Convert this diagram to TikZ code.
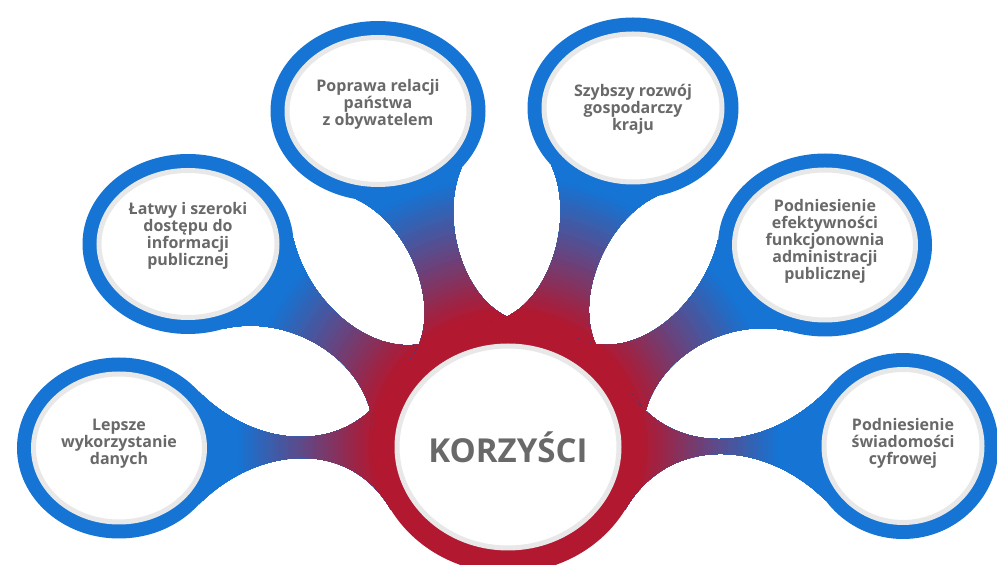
\documentclass[tikz,border=0pt]{standalone}
\usepackage{fontspec}
\setmainfont{Open Sans}
\usetikzlibrary{shapes.geometric}

\definecolor{korblue}{RGB}{21,116,212}
\definecolor{korred}{RGB}{178,24,48}
\definecolor{facegray}{RGB}{232,232,232}
\definecolor{textgray}{RGB}{105,105,105}

\pgfdeclarelayer{necks}
\pgfsetlayers{necks,main}

\tikzset{
  ring/.style={ellipse, fill=korblue, inner sep=0pt, outer sep=0pt},
  face/.style={ellipse, fill=white, draw=facegray, line width=5pt, inner sep=0pt, outer sep=0pt},
  label/.style={text=textgray, align=center, inner sep=0pt, font=\fontsize{16}{17}\selectfont\bfseries},
}

\begin{document}
\begin{tikzpicture}[x=1pt,y=1pt]
\useasboundingbox (0,0) rectangle (997,565);

% hub
\node[ring, fill=korred, minimum width=270pt, minimum height=252pt] (hub) at (508,118) {};
\node[face, minimum width=222pt, minimum height=202pt] (hubface) at (hub) {};
\node[label, font=\fontsize{33}{36}\selectfont\bfseries] (korzysci) at (hub) {KORZYŚCI};

% satellites
\node[ring, minimum width=204pt, minimum height=181pt] (a) at (119,117) {};
\node[face, minimum width=171pt, minimum height=148pt] (aface) at (a) {};
\node[label] (dane) at ([yshift=4pt]a) {Lepsze\\wykorzystanie\\danych};

\node[ring, minimum width=211pt, minimum height=180pt] (b) at (188,321) {};
\node[face, minimum width=178pt, minimum height=147pt] (bface) at (b) {};
\node[label] (dostep) at ([yshift=8pt]b) {Łatwy i szeroki\\dostępu do\\informacji\\publicznej};

\node[ring, minimum width=215pt, minimum height=180pt] (c) at (378,454) {};
\node[face, minimum width=182pt, minimum height=147pt] (cface) at (c) {};
\node[label] (relacje) at ([yshift=7pt]c) {Poprawa relacji\\państwa\\z obywatelem};

\node[ring, minimum width=211pt, minimum height=181pt] (d) at (633,457) {};
\node[face, minimum width=178pt, minimum height=148pt] (dface) at (d) {};
\node[label] (rozwoj) at ([yshift=-1pt]d) {Szybszy rozwój\\gospodarczy\\kraju};

\node[ring, minimum width=214pt, minimum height=183pt] (e) at (825,320) {};
\node[face, minimum width=181pt, minimum height=150pt] (eface) at (e) {};
\node[label] (efekt) at ([yshift=4pt]e) {Podniesienie\\efektywności\\funkcjonownia\\administracji\\publicznej};

\node[ring, minimum width=191pt, minimum height=186pt] (f) at (903,119) {};
\node[face, minimum width=158pt, minimum height=153pt] (fface) at (f) {};
\node[label] (cyfra) at ([yshift=3pt]f) {Podniesienie\\świadomości\\cyfrowej};

% necks between satellites and hub, blue fading to red
\begin{pgfonlayer}{necks}
\foreach \s/\p/\l in {a/0/1.1, b/-32/1, c/-69/0.9, d/-110/0.9, e/-148/1, f/180/1.1}{
  \pgfmathtruncatemacro\q{\p+180}
  \pgfmathtruncatemacro\sUp{\p+35}
  \pgfmathtruncatemacro\sDn{\p-35}
  \pgfmathtruncatemacro\hUp{\q-28}
  \pgfmathtruncatemacro\hDn{\q+28}
  \pgfmathtruncatemacro\oUp{\p-45}
  \pgfmathtruncatemacro\iUp{\q+60}
  \pgfmathtruncatemacro\oDn{\q-60}
  \pgfmathtruncatemacro\iDn{\p+45}
  \begin{scope}
    \clip (\s.\sUp) to[out=\oUp, in=\iUp, looseness=\l] (hub.\hUp) -- (hub.\hDn)
      to[out=\oDn, in=\iDn, looseness=\l] (\s.\sDn) -- cycle;
    \foreach \r in {420,415,...,125}{
      \pgfmathtruncatemacro\mix{max(0,min(100,(\r-136)/1.36))}
      \fill[korblue!\mix!korred] (hub.center) circle [radius=\r pt];
    }
  \end{scope}
}
\end{pgfonlayer}
\end{tikzpicture}
\end{document}
